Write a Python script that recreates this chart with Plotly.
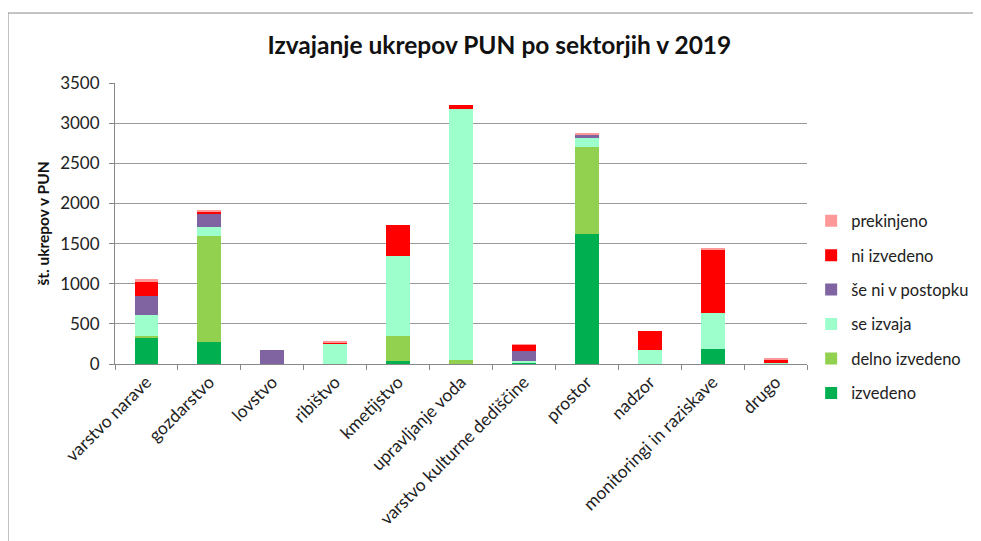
import plotly.graph_objects as go

categories = ["varstvo narave", "gozdarstvo", "lovstvo", "ribištvo", "kmetijstvo",
              "upravljanje voda", "varstvo kulturne dediščine", "prostor", "nadzor",
              "monitoringi in raziskave", "drugo"]

izvedeno        = [325, 271, 0,   0,   33,   5,    21,  1620, 0,   181, 0]
delno_izvedeno  = [20,  1325, 0,  0,   313,  41,   0,   1083, 0,   0,   0]
se_izvaja       = [262, 108, 0,   255, 1000, 3130, 21,  113,  172, 449, 15]
se_ni_v_postopku= [246, 175, 175, 0,   0,    0,    125, 37,   0,   0,   0]
ni_izvedeno     = [179, 21,  0,   10,  383,  54,   70,  8,    244, 790, 37]
prekinjeno      = [21,  17,  0,   10,  0,    0,    9,   5,    0,   21,  15]

series = [
    ("izvedeno", izvedeno, "#00B050"),
    ("delno izvedeno", delno_izvedeno, "#92D050"),
    ("se izvaja", se_izvaja, "#9CFFCC"),
    ("še ni v postopku", se_ni_v_postopku, "#8064A2"),
    ("ni izvedeno", ni_izvedeno, "#FF0000"),
    ("prekinjeno", prekinjeno, "#FF9999"),
]

FONT = "Lato"

fig = go.Figure()
n = len(series)
for i, (name, vals, col) in enumerate(series):
    fig.add_trace(go.Bar(x=categories, y=vals, name=name, marker_color=col,
                         marker_line_width=0, legendgroup=name, legendrank=n - i))

fig.update_layout(
    width=973, height=533,
    barmode="stack", bargap=0.62,
    paper_bgcolor="white", plot_bgcolor="white",
    margin=dict(l=107, r=174, t=75, b=177, autoexpand=False),
    font=dict(family=FONT, color="#222222", size=17),
    title=dict(text="<b>Izvajanje ukrepov PUN po sektorjih v 2019</b>",
               x=0.505, xanchor="center", y=0.93, yanchor="middle",
               font=dict(size=24.5, family=FONT, color="#111111")),
    legend=dict(x=1.006, xanchor="left", y=0.203, yanchor="middle",
                traceorder="grouped", tracegroupgap=10,
                font=dict(size=16.5, family=FONT, color="#222222"),
                itemwidth=30),
    showlegend=True,
)

fig.update_xaxes(
    tickangle=-45, tickson="boundaries", ticks="outside", ticklen=5,
    tickcolor="#888888", showline=True, linecolor="#888888", linewidth=1,
    tickfont=dict(size=17.5, family=FONT, color="#222222"), showgrid=False,
    automargin=False,
)
fig.update_yaxes(
    range=[0, 3500], dtick=500, showgrid=True, gridcolor="#999999", gridwidth=1,
    showline=True, linecolor="#888888", ticks="outside", ticklen=5,
    tickcolor="#888888", tickfont=dict(size=17, family=FONT, color="#222222"),
    ticklabelstandoff=6,
    title=dict(text="<b>št. ukrepov v PUN</b>", font=dict(size=15.5, family=FONT, color="#111111"),
               standoff=6),
    zeroline=False, automargin=False,
)

fig.add_shape(type="rect", xref="paper", yref="paper",
              x0=-0.1546, x1=1.3, y0=-0.7, y1=1.249,
              line=dict(color="#8a8a8a", width=1), fillcolor="rgba(0,0,0,0)", layer="below")

fig.write_html("out.html")
